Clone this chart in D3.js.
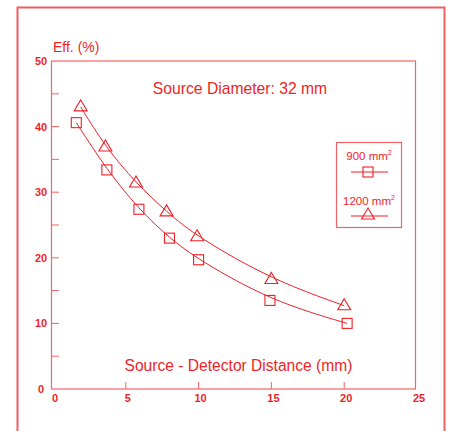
<!DOCTYPE html>
<html>
<head>
<meta charset="utf-8">
<script src="https://cdn.jsdelivr.net/npm/d3@7"></script>
<style>
  body { margin: 0; background: #fff; }
  svg { display: block; font-family: "Liberation Sans", Arial, sans-serif; }
</style>
</head>
<body>
<div id="chart"></div>
<script>
// distances (mm) and efficiencies (%)
const dist900 = [1.6, 3.7, 5.9, 8.0, 10.0, 14.9, 20.2];
const eff900 = [40.6, 33.4, 27.4, 23.0, 19.7, 13.5, 10.0];
const dist1200 = [1.9, 3.6, 5.7, 7.8, 9.9, 15.0, 20.0];
const eff1200 = [43.0, 36.9, 31.4, 27.0, 23.2, 16.7, 12.7];

const xTicks = [0, 5, 10, 15, 20, 25];
const yTicks = [0, 10, 20, 30, 40, 50];
const yMinor = [5, 15, 25, 35, 45];

const red = '#ee1f26';
const width = 449, height = 431;
const margin = {top: 61, left: 53, right: 32, bottom: 42};

const svg = d3.select('#chart').append('svg')
    .attr('width', width)
    .attr('height', height);

// outer frame (bottom edge falls outside the picture)
svg.append('rect')
    .attr('x', 17.5).attr('y', 7.5)
    .attr('width', 427).attr('height', 440)
    .attr('fill', 'none')
    .attr('stroke', '#f05c60')
    .attr('stroke-width', 2);

const x = d3.scaleLinear().domain([0, 25]).range([margin.left, width - margin.right]);
const y = d3.scaleLinear().domain([0, 50]).range([height - margin.bottom, margin.top]);

// plot box
svg.append('rect')
    .attr('x', x(0) - 1.5).attr('y', y(50))
    .attr('width', x(25) - x(0)).attr('height', y(0) - y(50))
    .attr('fill', 'none')
    .attr('stroke', '#f26368')
    .attr('stroke-width', 1.2);

// ticks pointing inward
svg.append('g')
    .selectAll('line')
    .data(yTicks.slice(1, -1).concat(yMinor))
    .join('line')
    .attr('x1', x(0) - 1.5).attr('x2', x(0) + 6)
    .attr('y1', d => y(d)).attr('y2', d => y(d))
    .attr('stroke', '#f26368');

svg.append('g')
    .selectAll('line')
    .data(xTicks.slice(1, -1))
    .join('line')
    .attr('x1', d => x(d)).attr('x2', d => x(d))
    .attr('y1', y(0)).attr('y2', y(0) - 7)
    .attr('stroke', '#f26368');

// tick labels
svg.append('g')
    .selectAll('text')
    .data(yTicks)
    .join('text')
    .attr('x', 41)
    .attr('y', d => y(d) + 4)
    .attr('text-anchor', 'middle')
    .attr('fill', red)
    .style('font-size', '11px')
    .style('font-weight', 'bold')
    .text(d => d);

svg.append('g')
    .selectAll('text')
    .data(xTicks)
    .join('text')
    .attr('x', d => x(d) + 2)
    .attr('y', y(0) + 13)
    .attr('text-anchor', 'middle')
    .attr('fill', red)
    .style('font-size', '11px')
    .style('font-weight', 'bold')
    .text(d => d);

// labels
svg.append('text')
    .attr('x', 53).attr('y', 52)
    .attr('fill', red)
    .style('font-size', '14px')
    .text('Eff. (%)');

svg.append('text')
    .attr('x', 240).attr('y', 94)
    .attr('text-anchor', 'middle')
    .attr('fill', red)
    .style('font-size', '15.7px')
    .text('Source Diameter: 32 mm');

svg.append('text')
    .attr('x', 238.5).attr('y', 371)
    .attr('text-anchor', 'middle')
    .attr('fill', red)
    .style('font-size', '15.6px')
    .text('Source - Detector Distance (mm)');

// fitted curves
const line = d3.line()
    .x(d => x(d[0]))
    .y(d => y(d[1]))
    .curve(d3.curveBasis);

const pts900 = dist900.map((d, i) => [d, eff900[i]]);
const pts1200 = dist1200.map((d, i) => [d, eff1200[i]]);

[pts900, pts1200].forEach(pts => {
    svg.append('path')
        .datum(pts)
        .attr('d', line)
        .attr('fill', 'none')
        .attr('stroke', red)
        .attr('stroke-width', 1);
});

const sq = 10;
function square(g, cx, cy) {
    g.append('rect')
        .attr('x', cx - sq / 2).attr('y', cy - sq / 2)
        .attr('width', sq).attr('height', sq)
        .attr('fill', 'none')
        .attr('stroke', red)
        .attr('stroke-width', 1.1);
}
function triangle(g, cx, cy) {
    g.append('path')
        .attr('d', `M${cx},${cy - 7}L${cx + 6.5},${cy + 4}L${cx - 6.5},${cy + 4}Z`)
        .attr('fill', 'none')
        .attr('stroke', red)
        .attr('stroke-width', 1.1);
}

pts900.forEach(d => square(svg, x(d[0]), y(d[1])));
pts1200.forEach(d => triangle(svg, x(d[0]), y(d[1])));

// legend
const legend = svg.append('g');
legend.append('rect')
    .attr('x', 336.5).attr('y', 142.5)
    .attr('width', 65).attr('height', 85)
    .attr('fill', 'none')
    .attr('stroke', '#f26368')
    .attr('stroke-width', 1.2);

const legendItems = [
    {label: '900 mm', cy: 172, ty: 160, mark: square},
    {label: '1200 mm', cy: 215, ty: 205, mark: triangle}
];
legendItems.forEach(it => {
    const t = legend.append('text')
        .attr('x', 369).attr('y', it.ty)
        .attr('text-anchor', 'middle')
        .attr('fill', red)
        .style('font-size', '11.5px');
    t.append('tspan').text(it.label);
    t.append('tspan').attr('dy', -5).style('font-size', '7px').text('2');
    legend.append('line')
        .attr('x1', 351).attr('x2', 388)
        .attr('y1', it.cy + (it.mark === triangle ? 1 : 0))
        .attr('y2', it.cy + (it.mark === triangle ? 1 : 0))
        .attr('stroke', red);
    it.mark(legend, 368, it.cy);
});
</script>
</body>
</html>
